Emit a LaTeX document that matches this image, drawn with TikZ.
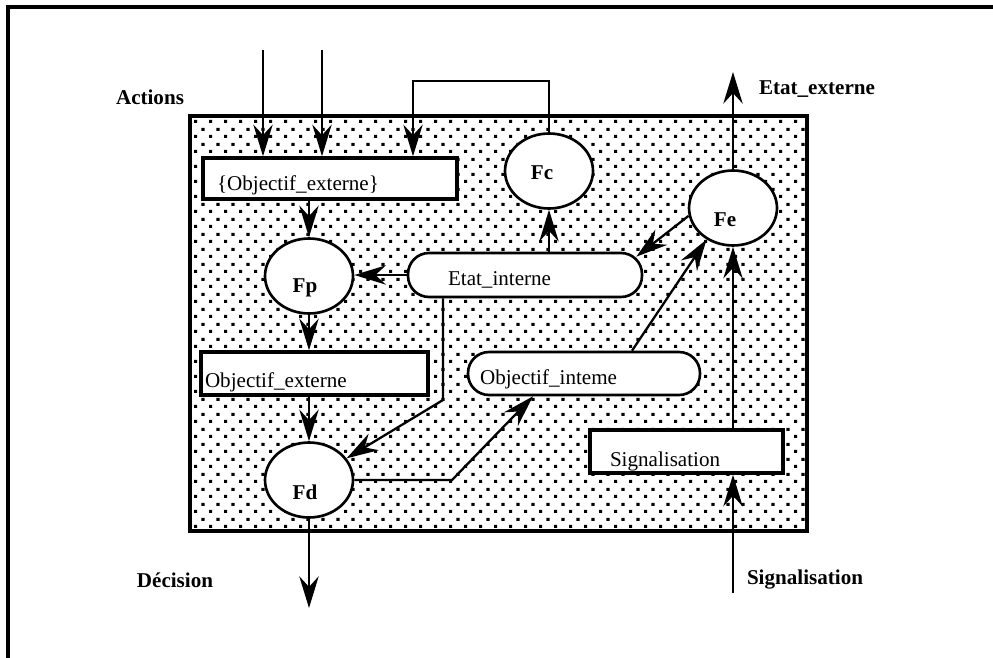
\documentclass[tikz,border=0pt]{standalone}
\usepackage{fontspec}
\setmainfont{Liberation Serif}
\usepackage{tikz}
\usetikzlibrary{arrows.meta}
\usetikzlibrary{shapes.geometric}
\usetikzlibrary{patterns}

% staggered square dots, as in the shaded block
\pgfdeclarepatternformonly{pixdots}{\pgfpointorigin}{\pgfpoint{0.3cm}{0.29cm}}{\pgfpoint{0.3cm}{0.29cm}}{%
    \pgfpathrectangle{\pgfpoint{0cm}{0cm}}{\pgfpoint{0.065cm}{0.065cm}}%
    \pgfpathrectangle{\pgfpoint{0.15cm}{0.145cm}}{\pgfpoint{0.065cm}{0.065cm}}%
    \pgfusepath{fill}}

\tikzset{
    fleche/.style={-{Stealth[length=18pt, width=11pt, inset=6pt]}, line width=1.3pt},
    fonction/.style={ellipse, draw, fill=white, line width=1.5pt, minimum width=1.76cm, minimum height=1.5cm, inner sep=0pt},
    boite/.style={rectangle, draw, fill=white, line width=2pt, align=left, inner ysep=0pt, text depth=3pt},
    bulle/.style={rectangle, draw, fill=white, line width=1.5pt, rounded corners=0.42cm, align=left, inner ysep=0pt, text depth=3pt},
    titre/.style={font=\fontsize{12}{14}\selectfont\bfseries}
}

\begin{document}
\begin{tikzpicture}[x=0.02cm, y=-0.02cm, font=\fontsize{12}{14}\selectfont]
    \useasboundingbox (0,0) rectangle (993,658);

    % Outer frame (top and left sides only)
    \draw[line width=2pt] (8,658) -- (8,7) -- (993,7);

    % Shaded block
    \draw[line width=2pt, pattern=pixdots] (190,116) rectangle (807,531);

    % Functions
    \node[fonction, label={[titre, xshift=-0.14cm, yshift=-0.04cm]center:Fc}] (fc) at (549,171) {};
    \node[fonction, label={[titre, xshift=-0.16cm, yshift=-0.24cm]center:Fe}] (fe) at (733,208) {};
    \node[fonction, label={[titre, xshift=-0.08cm, yshift=-0.24cm]center:Fp}] (fp) at (309,276) {};
    \node[fonction, label={[titre, xshift=-0.08cm, yshift=-0.24cm]center:Fd}] (fd) at (309,480) {};

    % Data boxes
    \node[boite, minimum height=0.82cm, inner xsep=0.28cm, text width=4.52cm, text height=17.2pt] (objext) at (330,178.5) {\{Objectif\_externe\}};
    \node[boite, minimum height=0.86cm, inner xsep=0.08cm, text width=4.38cm, text height=18.4pt] (objext2) at (314.5,373.5) {Objectif\_externe};
    \node[boite, minimum height=0.86cm, inner xsep=0.4cm, text width=3.06cm, text height=20.6pt] (signal) at (686.5,451.5) {Signalisation};
    \node[bulle, minimum height=0.88cm, inner xsep=0.8cm, text width=3.08cm, text height=14.4pt] (etat) at (525,275) {Etat\_interne};
    \node[bulle, minimum height=0.86cm, inner xsep=0.24cm, text width=4.16cm, text height=15pt] (objint) at (584,373.5) {Objectif\_inteme};

    % Outside labels
    \node[titre] (lactions) at (150,97) {Actions};
    \node[titre] (letatext) at (817,89) {Etat\_externe};
    \node[titre] (ldecision) at (175,580) {Décision};
    \node[titre] (lsignal) at (805,580) {Signalisation};

    % Free ends
    \coordinate (entreeA) at (263,50);
    \coordinate (entreeB) at (322,50);
    \coordinate (retour) at (413,81);
    \coordinate (sortieE) at (733,72);
    \coordinate (sortieD) at (309,608);
    \coordinate (entreeS) at (733,593);
    \coordinate (coudeA) at (443,400);
    \coordinate (coudeB) at (452,482);

    % Actions coming in
    \draw[fleche] (entreeA) -- (entreeA |- objext.north);
    \draw[fleche] (entreeB) -- (entreeB |- objext.north);
    % Loop from Fc back to the goal box
    \draw[fleche] (fc.north) |- (retour) -- (retour |- objext.north);

    % Main chain
    \draw[fleche] (fp.north |- objext.south) -- (fp.north);
    \draw[fleche] (fp.south) -- (fp.south |- objext2.north);
    \draw[fleche] (fd.north |- objext2.south) -- (fd.north);
    \draw[fleche] (fd.south) -- (sortieD);

    % Internal state
    \draw[fleche] (etat.west) -- (etat.west -| fp.east);
    \draw[fleche] (fc.south |- etat.north) -- (fc.south);
    \draw[fleche] (fe.190) -- ([xshift=-0.14cm, yshift=-0.1cm]etat.north east);
    \draw[fleche] (coudeA |- etat.south) -- (coudeA) -- (fd.30);

    % Internal goal
    \draw[fleche] (fd.east) -- (fd.east -| coudeB) -- ([xshift=-1.02cm]objint.south);
    \draw[fleche] ([xshift=0.96cm]objint.north) -- (fe.230);

    % Signals and external state
    \draw[fleche] (entreeS) -- (entreeS |- signal.south);
    \draw[fleche] (fe.south |- signal.north) -- (fe.south);
    \draw[fleche] (fe.north) -- (sortieE);
\end{tikzpicture}
\end{document}
